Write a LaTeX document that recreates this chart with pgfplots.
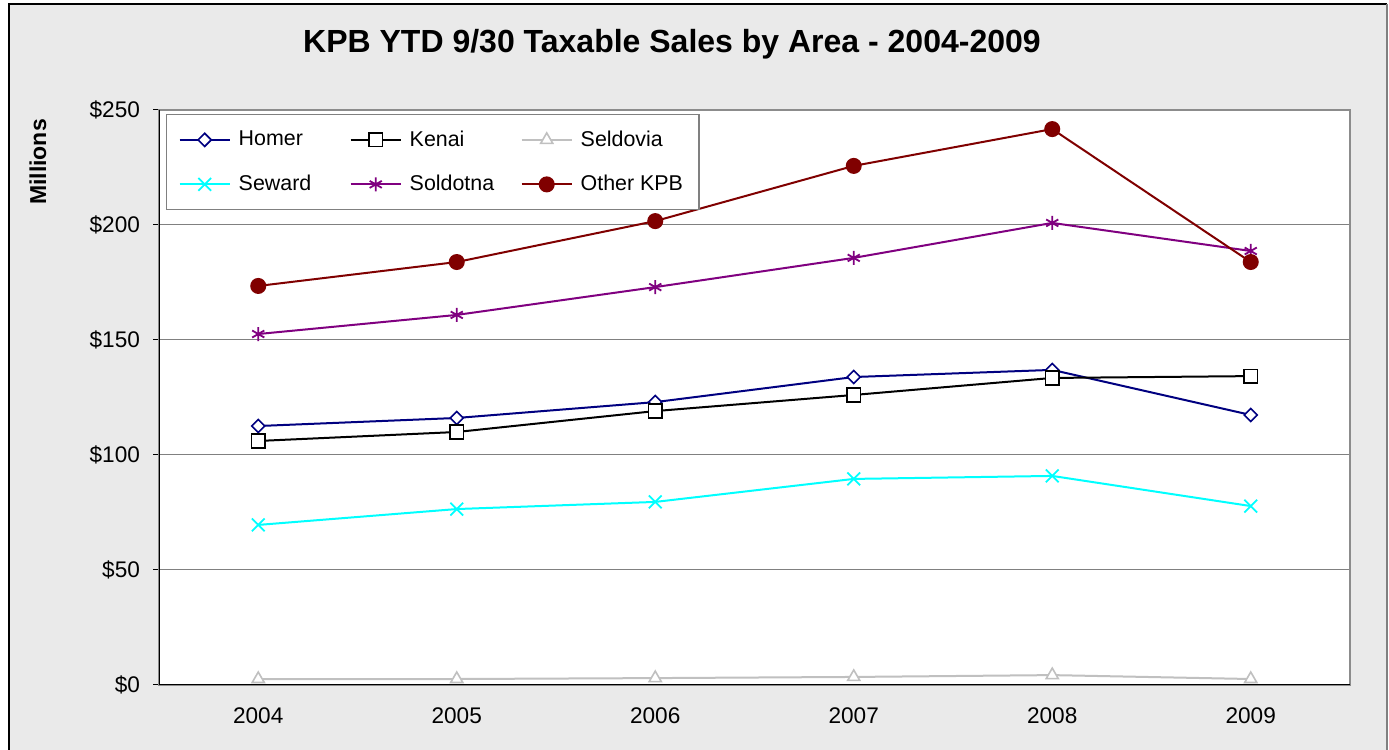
\documentclass[border=0pt]{standalone}
\usepackage{pgfplots}
\pgfplotsset{compat=1.18}
\usepackage{fontspec}
\setmainfont{Liberation Sans}
\definecolor{bg}{HTML}{EAEAEA}
\definecolor{homer}{HTML}{000080}
\definecolor{seld}{HTML}{C0C0C0}
\definecolor{sew}{HTML}{00FFFF}
\definecolor{sold}{HTML}{800080}
\definecolor{oth}{HTML}{800000}
\begin{document}
\begin{tikzpicture}
\useasboundingbox (0pt,0pt) rectangle (694.5pt,375pt);
% outer chart area (1 px of the reference = 0.5pt)
\fill[bg] (4.5pt,-3pt) rectangle (693.5pt,373pt);
\draw[black,line width=0.6pt] (4.5pt,-3pt) -- (4.5pt,373pt) -- (693.5pt,373pt);
\draw[gray,line width=1pt] (693.5pt,373pt) -- (693.5pt,-3pt);
\node[font=\bfseries\fontsize{16}{18}\selectfont] at (336pt,353pt) {KPB YTD 9/30 Taxable Sales by Area - 2004-2009};
\node[font=\bfseries\fontsize{11.5}{13}\selectfont,rotate=90] at (19pt,294pt) {Millions};
\begin{axis}[
  at={(79.5pt,32.5pt)}, anchor=south west,
  scale only axis, width=595.5pt, height=287.5pt,
  xmin=-0.5, xmax=5.5, ymin=0, ymax=250,
  axis background/.style={fill=white},
  axis line style={draw=gray!90, line width=0.8pt},
  xtick={0,...,5}, xticklabels={2004,2005,2006,2007,2008,2009},
  minor xtick={-0.5,0.5,...,5.5},
  ytick={0,50,...,250}, yticklabels={\$0,\$50,\$100,\$150,\$200,\$250},
  tick pos=left, tick align=outside,
  major tick length=3pt, minor tick length=3pt,
  xtick style={draw=none},
  minor tick style={black, line width=0.5pt},
  ytick style={black, line width=0.5pt},
  ymajorgrids, grid style={gray, line width=0.5pt},
  ticklabel style={font=\fontsize{11.3}{13}\selectfont},
  yticklabel style={xshift=-3pt},
  xticklabel style={yshift=-5pt},
  legend columns=3,
  legend style={at={(0.006,0.993)}, anchor=north west, draw=gray, line width=0.6pt,
    fill=white, font=\fontsize{10.7}{12}\selectfont,
    column sep=2pt, row sep=9pt, inner xsep=6pt, inner ysep=6pt},
  legend cell align=left,
  legend image code/.code={
    \draw[mark repeat=2,mark phase=2] plot coordinates {(0pt,0pt) (12.5pt,0pt) (25pt,0pt)};},
]
\addplot[homer, line width=1pt, mark=square*, mark size=2.3pt, mark options={fill=white, line width=0.8pt, rotate=45}]
  coordinates {(0,112.6) (1,116.1) (2,123.0) (3,133.9) (4,137.0) (5,117.4)};
\addlegendentry{\makebox[51.5pt][l]{Homer}}
\addplot[black, line width=1pt, mark=square*, mark size=3.4pt, mark options={fill=white, line width=0.8pt}]
  coordinates {(0,106.1) (1,110.0) (2,119.1) (3,126.1) (4,133.5) (5,134.3)};
\addlegendentry{\makebox[51.5pt][l]{Kenai}}
\addplot[seld, line width=1pt, mark=triangle*, mark size=3.5pt, mark options={fill=white, line width=0.8pt}]
  coordinates {(0,2.6) (1,2.6) (2,3.0) (3,3.5) (4,4.3) (5,2.6)};
\addlegendentry{Seldovia}
\addplot[sew, line width=1pt, mark=x, mark size=4.5pt, mark options={line width=0.9pt}]
  coordinates {(0,69.6) (1,76.5) (2,79.6) (3,89.6) (4,90.9) (5,77.8)};
\addlegendentry{\makebox[51.5pt][l]{Seward}}
\addplot[sold, line width=1pt, mark=asterisk, mark size=3.5pt, mark options={line width=0.9pt}]
  coordinates {(0,152.6) (1,160.9) (2,173.0) (3,185.7) (4,200.9) (5,188.7)};
\addlegendentry{\makebox[51.5pt][l]{Soldotna}}
\addplot[oth, line width=1pt, mark=*, mark size=3.5pt, mark options={fill=oth}]
  coordinates {(0,173.5) (1,183.9) (2,201.7) (3,225.7) (4,241.7) (5,183.9)};
\addlegendentry{Other KPB}
\draw[black, line width=0.8pt] (rel axis cs:0,1) -- (rel axis cs:0,0) -- (rel axis cs:1,0);
\end{axis}
\end{tikzpicture}
\end{document}
